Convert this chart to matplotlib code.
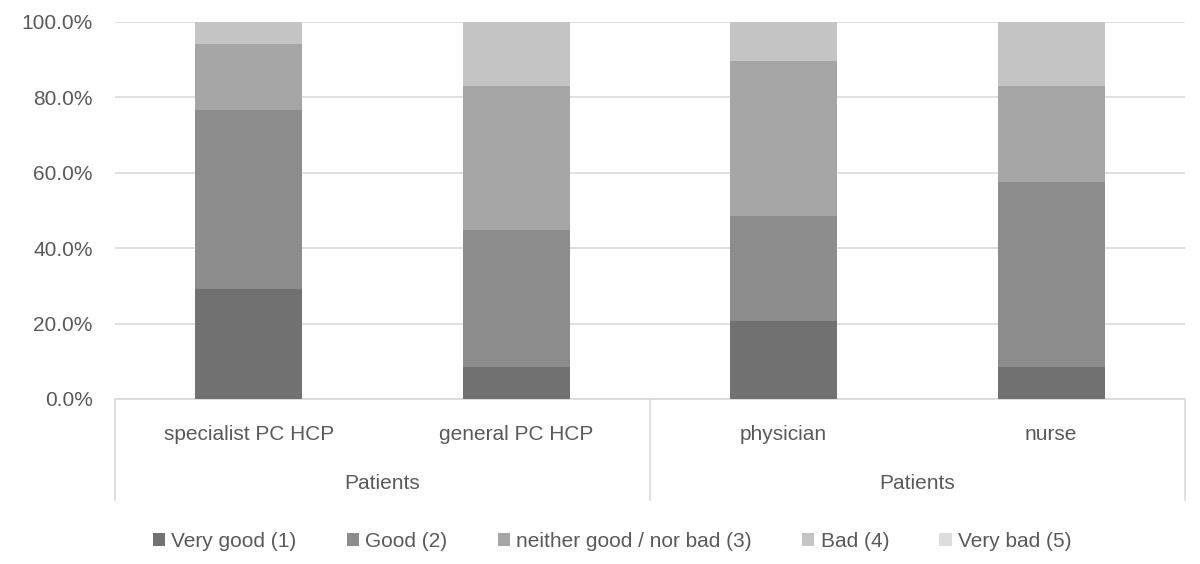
import matplotlib.pyplot as plt
import numpy as np

categories = ["specialist PC HCP", "general PC HCP", "physician", "nurse"]
groups = ["Patients", "Patients"]
series_names = ["Very good (1)", "Good (2)", "neither good / nor bad (3)", "Bad (4)", "Very bad (5)"]
very_good = [29.2, 8.5, 20.7, 8.5]
good = [47.5, 36.3, 27.8, 49.1]
neutral = [17.5, 38.2, 41.2, 25.4]
bad = [5.8, 17.0, 10.3, 17.0]
very_bad = [0.0, 0.0, 0.0, 0.0]
colors = ["#717171", "#8c8c8c", "#a5a5a5", "#c4c4c4", "#dcdcdc"]

plt.rcParams["font.family"] = ["Liberation Sans", "DejaVu Sans"]
text_color = "#595959"
grid_color = "#d9d9d9"

fig = plt.figure(figsize=(12, 5.64), dpi=100)
ax = fig.add_axes([0.0958, 0.2926, 0.8917, 0.6684])

x = np.arange(len(categories))
bottom = np.zeros(len(categories))
handles = []
for name, vals, col in zip(series_names, [very_good, good, neutral, bad, very_bad], colors):
    b = ax.bar(x, vals, bottom=bottom, width=0.4, color=col, label=name, zorder=3)
    handles.append(b)
    bottom += np.array(vals)

ax.set_xlim(-0.5, len(categories) - 0.5)
ax.set_ylim(0, 100)
ax.set_yticks(np.arange(0, 101, 20))
ax.set_yticklabels([f"{v:.1f}%" for v in np.arange(0, 101, 20)])
ax.tick_params(axis="y", length=0, labelsize=15, colors=text_color, pad=16)
ax.set_xticks([])
ax.grid(axis="y", color=grid_color, linewidth=1.2, zorder=0)
for s in ["left", "right", "top"]:
    ax.spines[s].set_visible(False)
ax.spines["bottom"].set_color(grid_color)
ax.spines["bottom"].set_linewidth(1.2)

# category labels and group separators below the axis
for i, c in enumerate(categories):
    ax.text(i, -0.095, c, transform=ax.get_xaxis_transform(), ha="center", va="center",
            fontsize=15, color=text_color)
for gi, g in enumerate(groups):
    ax.text(gi * 2 + 0.5, -0.225, g, transform=ax.get_xaxis_transform(), ha="center",
            va="center", fontsize=15, color=text_color)
for xv in [-0.5, 1.5, 3.5]:
    ax.plot([xv, xv], [0, -0.268], transform=ax.get_xaxis_transform(), color=grid_color,
            linewidth=1.2, clip_on=False)

fig.legend(handles=handles, labels=series_names, loc="center", bbox_to_anchor=(0.51, 0.04),
           ncol=5, frameon=False, fontsize=15, labelcolor=text_color, handlelength=0.6,
           handleheight=0.6, handletextpad=0.3, columnspacing=2.4)

fig.savefig("out.png", dpi=100)
